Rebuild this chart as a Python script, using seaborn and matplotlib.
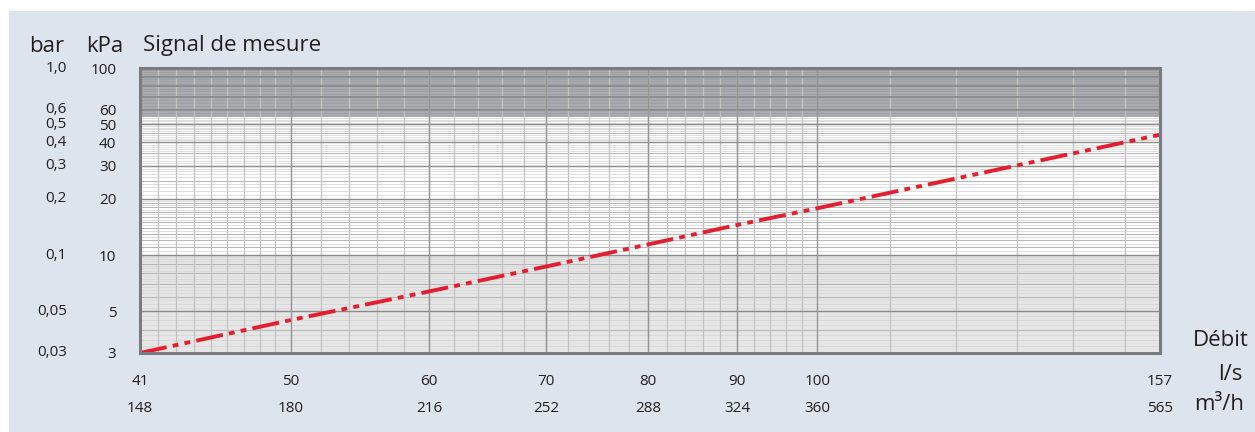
import numpy as np
import matplotlib
matplotlib.use("Agg")
import matplotlib.pyplot as plt
import matplotlib.transforms as mtransforms
from matplotlib.patches import Rectangle
from matplotlib.ticker import NullLocator
import seaborn as sns
import pandas as pd

# ---- données ----
debit_ls = [41, 50, 60, 70, 80, 90, 100, 157]
debit_m3h = [148, 180, 216, 252, 288, 324, 360, 565]
signal_kpa = [3.0, 4.5, 6.4, 8.7, 11.4, 14.5, 17.8, 44.0]

kpa_ticks = [100, 60, 50, 40, 30, 20, 10, 5, 3]
bar_labels = ["1,0", "0,6", "0,5", "0,4", "0,3", "0,2", "0,1", "0,05", "0,03"]

# ---- style ----
sns.set_theme(style="white")
plt.rcParams['font.family'] = ['Open Sans', 'DejaVu Sans']
TXT = '#231f20'
BG = '#dde4ee'
RED = '#e31e2f'

W, H = 1255, 432
fig = plt.figure(figsize=(W / 100, H / 100), dpi=100)
fig.patch.set_facecolor('white')
fig.patches.append(Rectangle((9 / W, 0), 1, 1 - 11 / H, transform=fig.transFigure,
                             facecolor=BG, edgecolor='none', zorder=-10))

ax = fig.add_axes([140 / W, 1 - 353 / H, 1020 / W, 285 / H])
ax.set_xscale('log')
ax.set_yscale('log')
ax.set_xlim(41, 157)
ax.set_ylim(3, 100)
ax.set_facecolor('white')

# zones grises
ax.axhspan(55, 100, color='#a8aaad', zorder=0, lw=0)
ax.axhspan(3, 10, color='#e6e6e6', zorder=0, lw=0)

# quadrillage horizontal
fine = np.concatenate([np.arange(3, 10, 0.25), np.arange(10, 20, 0.5), np.arange(20, 55, 1)])
for v in fine:
    ax.axhline(v, color='#d6d6d6', lw=0.55, zorder=1)
mid = np.concatenate([np.arange(3, 10, 1), np.arange(10, 20, 1), np.arange(20, 55, 5)])
for v in mid:
    ax.axhline(v, color='#b8b8b8', lw=0.8, zorder=1)
for v in [5, 10, 20, 30, 40, 50]:
    ax.axhline(v, color='#8c8c8c', lw=1.0, zorder=2)
for v in np.arange(57.5, 100, 2.5):
    ax.axhline(v, color='#9d9fa2', lw=0.6, zorder=1)
for v in [60, 70, 80, 90]:
    ax.axhline(v, color='#8b8c8f', lw=1.3, zorder=2)

# quadrillage vertical
vfine = np.concatenate([np.arange(42, 50, 1), np.arange(52, 100, 2), np.arange(110, 160, 10)])
for v in vfine:
    ax.axvline(v, color='#c2c2c2', lw=0.9, zorder=1.5)
for v in [50, 60, 70, 80, 90, 100]:
    ax.axvline(v, color='#959595', lw=1.0, zorder=2)

# courbe
df = pd.DataFrame({'debit': debit_ls, 'kpa': signal_kpa})
sns.lineplot(data=df, x='debit', y='kpa', ax=ax, color=RED, lw=2.8, zorder=5,
             dashes=False, solid_capstyle='butt')
ax.lines[-1].set_dashes([7, 1.6, 1.5, 1.6, 1.5, 1.6])
ax.set_xlabel('')
ax.set_ylabel('')

# cadre
for s in ax.spines.values():
    s.set_visible(True)
    s.set_color('#7a7b7e')
    s.set_linewidth(2.2)
    s.set_zorder(6)

ax.xaxis.set_minor_locator(NullLocator())
ax.yaxis.set_minor_locator(NullLocator())
ax.set_xticks(debit_ls, [str(v) for v in debit_ls])
ax.set_yticks(kpa_ticks, [str(v) for v in kpa_ticks])
ax.tick_params(axis='both', length=0, labelsize=11, colors=TXT)
ax.tick_params(axis='x', pad=15)
ax.tick_params(axis='y', pad=17)

trans_y = mtransforms.blended_transform_factory(ax.transAxes, ax.transData)
for v, lab in zip(kpa_ticks, bar_labels):
    ax.text(-73 / 1020, v, lab, transform=trans_y, ha='right', va='center',
            fontsize=11, color=TXT)

trans_x = mtransforms.blended_transform_factory(ax.transData, ax.transAxes)
for v, lab in zip(debit_ls, debit_m3h):
    ax.text(v, -55 / 285, str(lab), transform=trans_x, ha='center', va='center',
            fontsize=11, color=TXT)

# titres
def ftext(x, y, s, **kw):
    fig.text(x / W, 1 - y / H, s, color=TXT, **kw)

ftext(64, 46, 'bar', ha='right', va='center', fontsize=16)
ftext(123, 46, 'kPa', ha='right', va='center', fontsize=16)
ftext(143, 46, 'Signal de mesure', ha='left', va='center', fontsize=16)
ftext(1249, 340, 'Débit', ha='right', va='center', fontsize=16)
ftext(1243, 374, 'l/s', ha='right', va='center', fontsize=16)
ftext(1244, 405, 'm³/h', ha='right', va='center', fontsize=16)

fig.savefig('out.png', dpi=100, facecolor=fig.get_facecolor())
